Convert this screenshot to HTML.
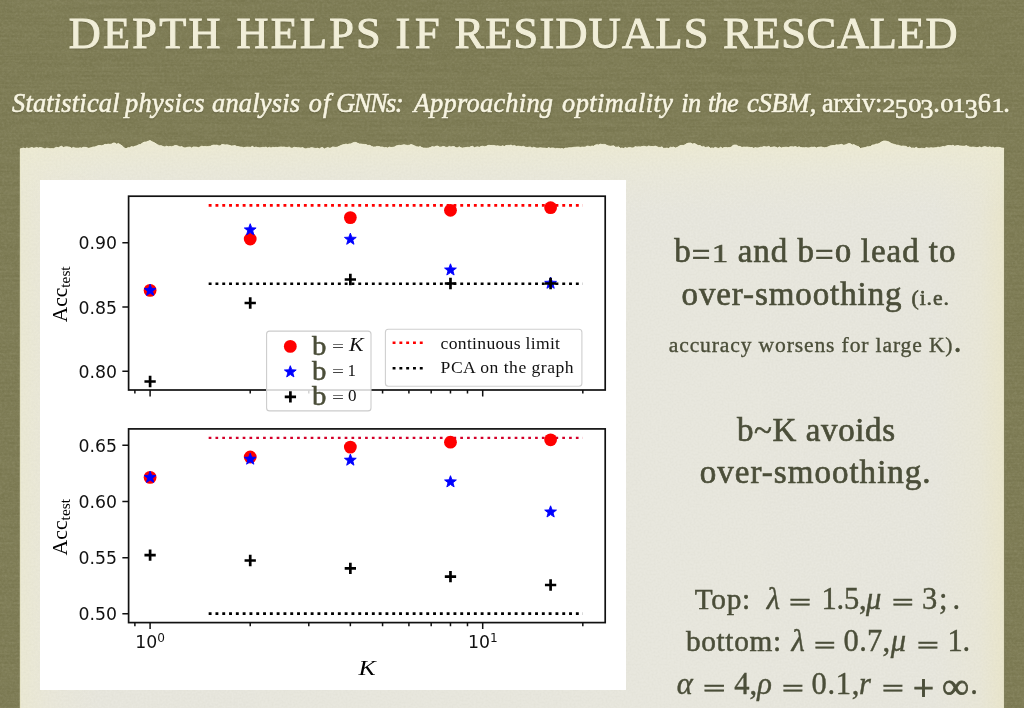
<!DOCTYPE html>
<html lang="en">
<head>
<meta charset="utf-8">
<title>Depth helps if residuals rescaled</title>
<style>
html,body{margin:0;padding:0}
body{width:1024px;height:708px;overflow:hidden;position:relative;background:#78764f;font-family:"Liberation Serif","DejaVu Serif",serif}
.bg,.paper{position:absolute;left:0;top:0}
.plot{position:absolute;left:40px;top:180px}
.t{position:absolute;white-space:pre;margin:0}
.w{position:absolute;top:0}
.s1{transform-origin:0 72%}
.title{color:#f1eed8;-webkit-text-stroke:1px #f1eed8;text-shadow:0 1px 1.5px rgba(50,48,25,.5)}
.sub{color:#f8f5e2;-webkit-text-stroke:0.6px #f8f5e2;text-shadow:0 1px 1.5px rgba(50,48,25,.5)}
.b1,.b2,.g,.mm{color:#4b4e39}
.b1{-webkit-text-stroke:0.65px #4b4e39}
.b2{-webkit-text-stroke:0.35px #4b4e39}
.g{-webkit-text-stroke:0.5px #4b4e39}
.mm{-webkit-text-stroke:0.4px #4b4e39}
.sm{font-size:21.6px}
.os{font-size:0.75em;display:inline-block;transform:scaleX(1.3);margin:0 0.03em 0 0.12em}
.eq{position:relative;top:0.12em}
.od{position:relative;top:0.24em}
.dot{font-size:33px}
</style>
</head>
<body>
<svg class="bg" width="1024" height="708">
<defs>
<filter id="lin" x="0" y="0" width="100%" height="100%"><feTurbulence type="fractalNoise" baseFrequency="0.006 0.45" numOctaves="2" seed="3"/><feColorMatrix type="matrix" values="0 0 0 0 0.30  0 0 0 0 0.29  0 0 0 0 0.15  0.5 0 0 0 -0.17"/></filter>
<filter id="blot" x="0" y="0" width="100%" height="100%"><feTurbulence type="fractalNoise" baseFrequency="0.45" numOctaves="2" seed="11"/><feColorMatrix type="matrix" values="0 0 0 0 0.28  0 0 0 0 0.27  0 0 0 0 0.14  0.45 0 0 0 -0.16"/></filter>
<filter id="blot2" x="0" y="0" width="100%" height="100%"><feTurbulence type="fractalNoise" baseFrequency="0.4" numOctaves="2" seed="23"/><feColorMatrix type="matrix" values="0 0 0 0 0.66  0 0 0 0 0.65  0 0 0 0 0.50  0 0.22 0 0 -0.09"/></filter>
<filter id="mot" x="0" y="0" width="100%" height="100%"><feTurbulence type="fractalNoise" baseFrequency="0.05 0.16" numOctaves="3" seed="41"/><feColorMatrix type="matrix" values="0 0 0 0 0.25  0 0 0 0 0.24  0 0 0 0 0.12  0.55 0 0 0 -0.2"/></filter>
<filter id="pgrain" x="0" y="0" width="100%" height="100%"><feTurbulence type="fractalNoise" baseFrequency="0.5" numOctaves="2" seed="5"/><feColorMatrix type="matrix" values="0 0 0 0 0.5  0 0 0 0 0.5  0 0 0 0 0.4  0.4 0 0 0 -0.14"/></filter>
<path id="pp" d="M20.3,720 L20.3,148.8 L21.9,148.4 L23.6,148.1 L25.2,148.8 L26.8,147.8 L28.5,148.4 L30.1,148.1 L31.7,147.5 L33.4,148.1 L35.0,148.0 L36.7,147.4 L38.3,148.1 L40.0,147.6 L41.7,147.7 L43.3,148.3 L45.0,149.0 L46.7,148.0 L48.3,148.3 L50.0,148.8 L51.7,148.6 L53.3,148.8 L55.0,147.9 L56.7,147.3 L58.3,147.8 L60.0,146.8 L61.7,146.2 L63.3,147.6 L65.0,146.9 L66.7,146.8 L68.3,146.9 L70.0,147.3 L71.7,148.2 L73.3,147.4 L75.0,148.0 L76.7,148.1 L78.3,148.2 L80.0,147.8 L81.7,148.1 L83.3,147.3 L85.0,147.3 L86.7,147.6 L88.3,148.3 L90.0,148.0 L91.7,147.5 L93.3,146.9 L95.0,146.9 L96.7,146.3 L98.3,145.6 L100.0,145.5 L101.7,145.7 L103.3,145.2 L105.0,144.3 L106.7,144.5 L108.3,144.1 L110.0,144.4 L111.7,143.9 L113.3,143.0 L115.0,143.0 L116.7,144.2 L118.3,143.4 L120.0,144.5 L122.0,145.8 L124.0,147.7 L126.0,148.8 L127.8,147.7 L129.6,147.7 L131.4,146.6 L133.2,147.0 L135.0,146.2 L136.9,145.8 L138.8,144.7 L140.6,144.4 L142.5,143.0 L144.4,142.1 L146.2,142.0 L148.1,141.3 L150.0,140.5 L152.0,141.7 L154.0,142.6 L156.0,143.8 L157.8,144.9 L159.6,145.7 L161.4,145.7 L163.2,146.6 L165.0,147.0 L166.7,146.1 L168.3,146.8 L170.0,146.5 L171.7,146.7 L173.3,146.2 L175.0,145.5 L176.7,145.6 L178.3,146.2 L180.0,147.0 L181.7,146.5 L183.3,147.5 L185.0,148.0 L186.7,147.4 L188.3,147.2 L190.0,147.0 L191.7,148.0 L193.3,146.9 L195.0,147.0 L196.7,147.1 L198.3,147.7 L200.0,147.0 L201.7,146.2 L203.4,146.5 L205.1,146.4 L206.9,146.7 L208.6,146.4 L210.3,146.3 L212.0,145.5 L213.6,145.1 L215.2,145.2 L216.9,145.1 L218.5,145.8 L220.1,145.9 L221.8,144.6 L223.4,144.6 L225.0,145.0 L226.7,144.8 L228.3,145.0 L230.0,145.6 L231.7,146.0 L233.3,145.8 L235.0,145.6 L236.7,146.4 L238.3,146.6 L240.0,147.0 L241.8,147.1 L243.6,147.7 L245.3,147.3 L247.1,147.0 L248.9,147.2 L250.7,147.3 L252.4,146.3 L254.2,147.6 L256.0,147.0 L257.7,147.5 L259.3,147.8 L261.0,147.8 L262.7,147.3 L264.3,147.4 L266.0,147.1 L267.7,148.0 L269.3,147.2 L271.0,148.0 L272.7,147.3 L274.3,147.5 L276.0,147.3 L277.7,147.5 L279.3,147.1 L281.0,146.9 L282.7,147.1 L284.3,147.0 L286.0,147.5 L287.7,147.4 L289.3,146.9 L291.0,148.2 L292.7,147.9 L294.3,147.3 L296.0,147.5 L297.7,147.7 L299.3,147.7 L301.0,148.0 L302.7,147.5 L304.3,148.6 L306.0,148.9 L307.7,148.2 L309.3,148.3 L311.0,147.7 L312.7,147.8 L314.3,148.2 L316.0,148.5 L317.7,148.1 L319.3,148.9 L321.0,147.8 L322.7,147.6 L324.3,148.9 L326.0,148.2 L327.7,147.6 L329.3,148.1 L331.0,148.0 L332.7,146.9 L334.3,147.2 L336.0,147.5 L337.7,146.9 L339.3,146.2 L341.0,145.5 L342.7,144.8 L344.3,144.6 L346.0,144.0 L347.7,144.6 L349.3,143.9 L351.0,143.9 L352.7,142.9 L354.3,142.4 L356.0,142.5 L357.7,143.3 L359.3,143.9 L361.0,144.0 L362.7,144.3 L364.3,144.6 L366.0,144.5 L367.9,145.5 L369.8,145.3 L371.6,146.4 L373.5,147.0 L375.3,146.9 L377.1,146.4 L378.9,146.5 L380.6,147.0 L382.4,147.0 L384.2,147.7 L386.0,147.5 L387.7,148.0 L389.3,147.0 L391.0,147.5 L392.7,147.3 L394.3,147.1 L396.0,146.0 L397.7,145.5 L399.3,145.3 L401.0,145.5 L402.7,144.9 L404.3,144.7 L406.0,145.2 L407.7,145.4 L409.3,145.2 L411.0,144.5 L412.9,145.1 L414.8,146.0 L416.6,146.8 L418.5,147.0 L420.2,146.5 L421.8,147.6 L423.5,148.1 L425.2,148.1 L426.8,148.2 L428.5,148.0 L430.4,147.5 L432.2,146.6 L434.1,147.1 L436.0,146.2 L437.7,146.1 L439.3,146.9 L441.0,147.2 L442.7,146.4 L444.3,146.5 L446.0,147.4 L447.7,147.2 L449.3,146.4 L451.0,147.0 L452.7,146.5 L454.3,146.6 L456.0,147.8 L457.7,147.7 L459.3,146.7 L461.0,147.8 L462.7,148.1 L464.3,147.7 L466.0,147.5 L467.7,147.2 L469.3,147.4 L471.0,146.6 L472.7,146.3 L474.3,147.7 L476.0,147.1 L477.7,146.8 L479.3,147.3 L481.0,146.5 L482.7,146.2 L484.3,146.7 L486.0,146.5 L487.7,145.4 L489.3,145.3 L491.0,145.5 L492.7,145.4 L494.3,145.4 L496.0,146.1 L497.7,145.8 L499.3,146.2 L501.0,146.5 L502.7,145.7 L504.3,146.6 L506.0,145.5 L507.7,145.4 L509.3,145.4 L511.0,145.0 L512.8,145.9 L514.6,145.4 L516.3,146.5 L518.1,146.1 L519.9,146.4 L521.7,146.7 L523.4,146.2 L525.2,147.1 L527.0,147.5 L528.7,147.1 L530.3,146.9 L532.0,148.1 L533.7,147.2 L535.3,147.7 L537.0,148.2 L538.7,148.0 L540.3,147.7 L542.0,148.0 L543.7,148.1 L545.3,148.2 L547.0,148.6 L548.7,147.6 L550.3,148.3 L552.0,147.9 L553.7,148.0 L555.3,148.7 L557.0,148.4 L558.7,148.5 L560.3,148.8 L562.0,148.5 L563.7,149.0 L565.3,148.1 L567.0,148.2 L568.7,147.8 L570.3,147.7 L572.0,147.8 L573.7,147.3 L575.3,147.2 L577.0,147.0 L578.7,146.9 L580.3,147.4 L582.0,147.0 L583.7,147.1 L585.3,147.1 L587.0,146.0 L588.7,146.3 L590.3,146.8 L592.0,146.0 L593.7,146.3 L595.3,145.0 L597.0,144.7 L598.7,144.9 L600.3,144.1 L602.0,144.5 L603.7,144.4 L605.3,144.4 L607.0,145.5 L608.7,145.9 L610.3,146.3 L612.0,146.0 L613.7,145.8 L615.3,147.0 L617.0,147.2 L618.7,146.8 L620.3,148.2 L622.0,148.0 L623.7,148.6 L625.3,147.4 L627.0,148.3 L628.7,147.4 L630.3,147.4 L632.0,148.1 L633.7,147.7 L635.3,146.6 L637.0,147.0 L638.7,146.8 L640.3,146.9 L642.0,146.6 L643.7,146.3 L645.3,146.5 L647.0,147.0 L648.7,145.9 L650.3,146.6 L652.0,146.5 L653.7,146.6 L655.3,146.1 L657.0,146.7 L658.7,147.4 L660.3,147.4 L662.0,146.8 L663.7,148.4 L665.3,148.3 L667.0,148.0 L668.7,148.6 L670.3,147.2 L672.0,147.4 L673.7,147.0 L675.3,148.0 L677.0,147.5 L678.7,146.5 L680.3,145.6 L682.0,145.4 L683.7,145.5 L685.3,144.6 L687.0,143.5 L688.9,143.1 L690.8,143.0 L692.6,144.1 L694.5,143.5 L696.4,144.5 L698.2,145.6 L700.1,145.5 L702.0,147.0 L703.7,146.4 L705.3,147.5 L707.0,147.2 L708.7,146.8 L710.3,148.2 L712.0,147.9 L713.7,148.2 L715.3,147.3 L717.0,148.0 L718.8,148.5 L720.6,147.2 L722.4,148.3 L724.1,147.6 L725.9,147.4 L727.7,147.7 L729.5,147.5 L731.2,147.3 L732.8,145.5 L734.5,145.0 L736.4,145.1 L738.2,146.3 L740.1,146.5 L742.0,147.5 L743.7,147.0 L745.3,147.1 L747.0,147.0 L748.7,147.3 L750.3,147.5 L752.0,147.5 L753.7,148.3 L755.3,147.6 L757.0,148.0 L758.7,147.8 L760.3,147.2 L762.0,147.3 L763.7,146.6 L765.3,146.8 L767.0,147.0 L768.8,146.3 L770.6,147.5 L772.3,147.2 L774.1,146.8 L775.9,147.2 L777.7,148.0 L779.4,146.8 L781.2,147.9 L783.0,147.5 L784.8,147.3 L786.6,147.2 L788.4,147.6 L790.1,146.8 L791.9,146.8 L793.7,146.9 L795.5,146.5 L797.3,147.4 L799.1,146.7 L800.9,147.6 L802.6,147.7 L804.4,147.8 L806.2,147.6 L808.0,148.0 L809.7,147.7 L811.3,147.2 L813.0,147.3 L814.7,147.1 L816.3,148.1 L818.0,147.3 L819.7,147.1 L821.3,146.9 L823.0,147.5 L824.7,147.7 L826.3,147.5 L828.0,146.9 L829.7,146.1 L831.3,145.7 L833.0,145.5 L834.7,145.5 L836.3,144.8 L838.0,145.0 L839.8,144.7 L841.6,144.3 L843.4,145.2 L845.1,145.0 L846.9,144.2 L848.7,143.5 L850.5,143.8 L852.2,145.0 L853.8,144.6 L855.5,145.5 L857.2,146.3 L858.8,146.8 L860.5,148.5 L862.2,148.0 L863.8,147.8 L865.5,147.5 L867.2,146.7 L868.8,146.8 L870.5,146.5 L872.4,145.1 L874.2,144.9 L876.1,144.0 L878.0,144.0 L879.9,143.1 L881.8,141.8 L883.6,141.0 L885.5,141.0 L887.4,141.5 L889.2,142.1 L891.1,143.4 L893.0,144.0 L894.7,144.4 L896.3,145.0 L898.0,145.2 L899.7,145.7 L901.3,146.2 L903.0,146.0 L904.7,146.2 L906.3,146.4 L908.0,147.7 L909.7,146.8 L911.3,148.0 L913.0,148.0 L914.7,148.2 L916.3,147.3 L918.0,148.5 L919.7,148.6 L921.3,148.2 L923.0,148.4 L924.7,148.5 L926.3,147.5 L928.0,148.0 L929.7,147.9 L931.3,147.7 L933.0,148.0 L934.7,147.8 L936.3,147.7 L938.0,147.1 L939.7,147.4 L941.3,146.9 L943.0,146.5 L944.7,146.7 L946.3,145.9 L948.0,145.5 L949.7,145.5 L951.3,145.7 L953.0,145.2 L954.7,146.2 L956.3,145.7 L958.0,145.5 L959.7,145.9 L961.3,146.0 L963.0,146.3 L964.7,146.2 L966.3,145.6 L968.0,146.5 L969.7,147.1 L971.3,147.2 L973.0,147.0 L974.7,147.2 L976.3,147.6 L978.0,147.5 L979.7,146.8 L981.3,147.7 L983.0,147.0 L984.7,146.6 L986.3,146.9 L988.0,147.5 L989.7,146.7 L991.3,147.4 L993.0,147.0 L994.8,147.9 L996.6,147.3 L998.4,147.3 L1000.1,147.6 L1001.9,148.1 L1003.7,148.0 L1003.7,720 Z"/>
<clipPath id="pc"><use href="#pp"/></clipPath>
<linearGradient id="pg" x1="0" x2="1" y1="0" y2="0"><stop offset="0" stop-color="#ebe9d4"/><stop offset="0.03" stop-color="#eae8da"/><stop offset="0.08" stop-color="#e8e7de"/><stop offset="0.93" stop-color="#e8e7de"/><stop offset="0.975" stop-color="#e9e7d8"/><stop offset="1" stop-color="#eae6cc"/></linearGradient>
<linearGradient id="pt" x1="0" x2="0" y1="0" y2="1"><stop offset="0" stop-color="#eeebd2" stop-opacity="1"/><stop offset="0.4" stop-color="#edebd6" stop-opacity="0.55"/><stop offset="1" stop-color="#ebe9da" stop-opacity="0"/></linearGradient>
</defs>
<rect width="1024" height="708" fill="#78764f"/>
<rect width="1024" height="708" filter="url(#lin)"/>
<rect width="1024" height="708" filter="url(#mot)"/>
<rect width="1024" height="708" filter="url(#blot)"/>
<rect width="1024" height="708" filter="url(#blot2)"/>
<use href="#pp" fill="#5f5d3a" opacity="0.55" transform="translate(1.2,0.8)"/>
<use href="#pp" fill="url(#pg)"/>
<g clip-path="url(#pc)"><rect x="19" y="138" width="986" height="75" fill="url(#pt)"/></g>
<use href="#pp" fill="none" stroke="#f4f1d6" stroke-width="1" opacity="0.8"/>
<g clip-path="url(#pc)"><rect x="19" y="138" width="986" height="570" filter="url(#pgrain)" opacity="0.5"/></g>
</svg>
<svg class="plot" width="586" height="510" viewBox="40 180 586 510">
<rect x="40" y="180" width="586" height="510" fill="#ffffff"/>
<line x1="208.67" y1="205.40" x2="582.82" y2="205.40" stroke="#ff0000" stroke-width="2.60" stroke-dasharray="2.90 3.90"/>
<line x1="208.67" y1="283.70" x2="582.82" y2="283.70" stroke="#000000" stroke-width="2.60" stroke-dasharray="2.90 3.90"/>
<line x1="208.67" y1="437.90" x2="582.82" y2="437.90" stroke="#d4002a" stroke-width="2.20" stroke-dasharray="2.70 4.10"/>
<line x1="208.67" y1="613.65" x2="582.82" y2="613.65" stroke="#000000" stroke-width="2.70" stroke-dasharray="2.90 3.90"/>
<circle cx="150.10" cy="290.40" r="6.4" fill="#ff0000"/>
<circle cx="250.22" cy="239.00" r="6.4" fill="#ff0000"/>
<circle cx="350.35" cy="217.60" r="6.4" fill="#ff0000"/>
<circle cx="450.47" cy="210.30" r="6.4" fill="#ff0000"/>
<circle cx="550.59" cy="207.70" r="6.4" fill="#ff0000"/>
<polygon points="150.10,284.20 151.63,288.30 156.00,288.48 152.57,291.20 153.74,295.42 150.10,293.00 146.46,295.42 147.63,291.20 144.20,288.48 148.57,288.30" fill="#0000ff" stroke="#0000ff" stroke-width="0.9" stroke-linejoin="round"/>
<polygon points="250.22,223.70 251.75,227.80 256.12,227.98 252.70,230.70 253.87,234.92 250.22,232.50 246.58,234.92 247.75,230.70 244.33,227.98 248.69,227.80" fill="#0000ff" stroke="#0000ff" stroke-width="0.9" stroke-linejoin="round"/>
<polygon points="350.35,233.10 351.87,237.20 356.24,237.38 352.82,240.10 353.99,244.32 350.35,241.90 346.70,244.32 347.87,240.10 344.45,237.38 348.82,237.20" fill="#0000ff" stroke="#0000ff" stroke-width="0.9" stroke-linejoin="round"/>
<polygon points="450.47,263.80 452.00,267.90 456.36,268.08 452.94,270.80 454.11,275.02 450.47,272.60 446.82,275.02 447.99,270.80 444.57,268.08 448.94,267.90" fill="#0000ff" stroke="#0000ff" stroke-width="0.9" stroke-linejoin="round"/>
<polygon points="550.59,277.10 552.12,281.20 556.49,281.38 553.06,284.10 554.23,288.32 550.59,285.90 546.95,288.32 548.12,284.10 544.69,281.38 549.06,281.20" fill="#0000ff" stroke="#0000ff" stroke-width="0.9" stroke-linejoin="round"/>
<path d="M144.45,381.50H155.75M150.10,375.85V387.15" stroke="#000" stroke-width="2.7" fill="none"/>
<path d="M244.57,303.00H255.87M250.22,297.35V308.65" stroke="#000" stroke-width="2.7" fill="none"/>
<path d="M344.70,279.50H356.00M350.35,273.85V285.15" stroke="#000" stroke-width="2.7" fill="none"/>
<path d="M444.82,283.50H456.12M450.47,277.85V289.15" stroke="#000" stroke-width="2.7" fill="none"/>
<path d="M544.94,283.50H556.24M550.59,277.85V289.15" stroke="#000" stroke-width="2.7" fill="none"/>
<circle cx="150.10" cy="477.40" r="6.4" fill="#ff0000"/>
<circle cx="250.22" cy="457.00" r="6.4" fill="#ff0000"/>
<circle cx="350.35" cy="447.10" r="6.4" fill="#ff0000"/>
<circle cx="450.47" cy="442.20" r="6.4" fill="#ff0000"/>
<circle cx="550.59" cy="439.80" r="6.4" fill="#ff0000"/>
<polygon points="150.10,471.20 151.63,475.30 156.00,475.48 152.57,478.20 153.74,482.42 150.10,480.00 146.46,482.42 147.63,478.20 144.20,475.48 148.57,475.30" fill="#0000ff" stroke="#0000ff" stroke-width="0.9" stroke-linejoin="round"/>
<polygon points="250.22,453.00 251.75,457.10 256.12,457.28 252.70,460.00 253.87,464.22 250.22,461.80 246.58,464.22 247.75,460.00 244.33,457.28 248.69,457.10" fill="#0000ff" stroke="#0000ff" stroke-width="0.9" stroke-linejoin="round"/>
<polygon points="350.35,454.00 351.87,458.10 356.24,458.28 352.82,461.00 353.99,465.22 350.35,462.80 346.70,465.22 347.87,461.00 344.45,458.28 348.82,458.10" fill="#0000ff" stroke="#0000ff" stroke-width="0.9" stroke-linejoin="round"/>
<polygon points="450.47,475.70 452.00,479.80 456.36,479.98 452.94,482.70 454.11,486.92 450.47,484.50 446.82,486.92 447.99,482.70 444.57,479.98 448.94,479.80" fill="#0000ff" stroke="#0000ff" stroke-width="0.9" stroke-linejoin="round"/>
<polygon points="550.59,505.80 552.12,509.90 556.49,510.08 553.06,512.80 554.23,517.02 550.59,514.60 546.95,517.02 548.12,512.80 544.69,510.08 549.06,509.90" fill="#0000ff" stroke="#0000ff" stroke-width="0.9" stroke-linejoin="round"/>
<path d="M144.45,555.20H155.75M150.10,549.55V560.85" stroke="#000" stroke-width="2.7" fill="none"/>
<path d="M244.57,560.50H255.87M250.22,554.85V566.15" stroke="#000" stroke-width="2.7" fill="none"/>
<path d="M344.70,568.30H356.00M350.35,562.65V573.95" stroke="#000" stroke-width="2.7" fill="none"/>
<path d="M444.82,576.60H456.12M450.47,570.95V582.25" stroke="#000" stroke-width="2.7" fill="none"/>
<path d="M544.94,585.00H556.24M550.59,579.35V590.65" stroke="#000" stroke-width="2.7" fill="none"/>
<rect x="128.6" y="196.2" width="476.6" height="193.8" fill="none" stroke="#111" stroke-width="1.7"/>
<rect x="128.6" y="428.9" width="476.6" height="193.7" fill="none" stroke="#111" stroke-width="1.7"/>
<path d="M134.88,390.00v3.6M250.22,390.00v3.6M308.79,390.00v3.6M350.35,390.00v3.6M382.58,390.00v3.6M408.91,390.00v3.6M431.18,390.00v3.6M450.47,390.00v3.6M467.48,390.00v3.6M582.82,390.00v3.6M150.10,390.00v6.4M482.70,390.00v6.4M134.88,622.60v3.6M250.22,622.60v3.6M308.79,622.60v3.6M350.35,622.60v3.6M382.58,622.60v3.6M408.91,622.60v3.6M431.18,622.60v3.6M450.47,622.60v3.6M467.48,622.60v3.6M582.82,622.60v3.6M150.10,622.60v6.4M482.70,622.60v6.4M128.55,371.30h-6.2M128.55,307.05h-6.2M128.55,242.80h-6.2M128.55,613.84h-6.2M128.55,557.66h-6.2M128.55,501.48h-6.2M128.55,445.30h-6.2" stroke="#111" stroke-width="1.5" fill="none"/>
<g font-family="'DejaVu Sans', 'Liberation Sans', sans-serif" font-size="17.3" fill="#111">
<text x="116.9" y="377.75" text-anchor="end">0.80</text>
<text x="116.9" y="313.50" text-anchor="end">0.85</text>
<text x="116.9" y="249.25" text-anchor="end">0.90</text>
<text x="116.9" y="620.29" text-anchor="end">0.50</text>
<text x="116.9" y="564.11" text-anchor="end">0.55</text>
<text x="116.9" y="507.93" text-anchor="end">0.60</text>
<text x="116.9" y="451.75" text-anchor="end">0.65</text>
<text x="135.3" y="648.4">10<tspan font-size="12.1" dy="-6.2">0</tspan></text>
<text x="468.0" y="648.4">10<tspan font-size="12.1" dy="-6.2">1</tspan></text>
</g>
<g font-family="'Liberation Serif', serif" fill="#000">
<text transform="translate(66.5,322.2) rotate(-90)" font-size="20.8" textLength="55.8" lengthAdjust="spacingAndGlyphs">Acc<tspan font-size="14.8" dy="3.8">test</tspan></text>
<text transform="translate(66.5,555.4) rotate(-90)" font-size="20.8" textLength="56.5" lengthAdjust="spacingAndGlyphs">Acc<tspan font-size="14.8" dy="3.8">test</tspan></text>
<text x="358.6" y="674.8" font-size="22" font-style="italic" textLength="17.2" lengthAdjust="spacingAndGlyphs">K</text>
</g>
<rect x="266.6" y="331.1" width="104.4" height="79.8" rx="3" fill="#ffffff" fill-opacity="0.82" stroke="#cccccc" stroke-width="1.1"/>
<circle cx="290.30" cy="346.40" r="6.4" fill="#ff0000"/>
<polygon points="290.30,365.70 291.83,369.80 296.20,369.98 292.77,372.70 293.94,376.92 290.30,374.50 286.66,376.92 287.83,372.70 284.40,369.98 288.77,369.80" fill="#0000ff" stroke="#0000ff" stroke-width="0.9" stroke-linejoin="round"/>
<path d="M284.75,396.80H296.05M290.40,391.15V402.45" stroke="#000" stroke-width="2.7" fill="none"/>
<g font-family="'Liberation Serif', serif" fill="#111" font-size="17">
<text x="332.0" y="352.3" fill="#444" textLength="12" lengthAdjust="spacingAndGlyphs">=</text>
<text x="332.0" y="377.1" fill="#444" textLength="12" lengthAdjust="spacingAndGlyphs">=</text>
<text x="332.0" y="402.5" fill="#444" textLength="12" lengthAdjust="spacingAndGlyphs">=</text>
<text x="349.0" y="350.8" font-style="italic" font-size="18.8" textLength="14.6" lengthAdjust="spacingAndGlyphs">K</text>
<text x="347.6" y="375.6">1</text>
<text x="347.9" y="401.0">0</text>
</g>
<g font-family="'Liberation Serif', serif" fill="#4b4e39" stroke="#4b4e39" stroke-width="0.5" font-size="27.5">
<text x="312.0" y="354.5" textLength="14.4" lengthAdjust="spacingAndGlyphs">b</text>
<text x="312.0" y="379.9" textLength="14.4" lengthAdjust="spacingAndGlyphs">b</text>
<text x="312.0" y="405.1" textLength="14.4" lengthAdjust="spacingAndGlyphs">b</text>
</g>
<rect x="385.4" y="329.2" width="196.5" height="57" rx="3" fill="#ffffff" fill-opacity="0.82" stroke="#cfcfcf" stroke-width="1.1"/>
<line x1="392.60" y1="342.80" x2="423.20" y2="342.80" stroke="#ff0000" stroke-width="2.60" stroke-dasharray="2.90 3.90"/>
<line x1="392.60" y1="368.20" x2="423.20" y2="368.20" stroke="#000000" stroke-width="2.60" stroke-dasharray="2.90 3.90"/>
<g font-family="'Liberation Serif', serif" fill="#111" font-size="17.6">
<text x="440.6" y="348.7" textLength="119.4" lengthAdjust="spacing">continuous limit</text>
<text x="440.6" y="373.4" textLength="133" lengthAdjust="spacing">PCA on the graph</text>
</g>
</svg>
<div class="t title" style="left:0;top:11.90px;font-size:44.30px;line-height:44.30px;width:1024px;height:44.30px"><span class="w" style="left:68.80px;letter-spacing:2.216px">DEPTH</span> <span class="w" style="left:236.60px;letter-spacing:2.152px">HELPS</span> <span class="w" style="left:395.60px;letter-spacing:4.609px">IF</span> <span class="w" style="left:454.40px;letter-spacing:1.293px">RESIDUALS</span> <span class="w" style="left:723.00px;letter-spacing:0.787px">RESCALED</span> </div>
<div class="t sub" style="left:0;top:90.57px;font-size:26.30px;line-height:26.30px;width:1024px;height:26.30px"><i class="w" style="left:12.00px;letter-spacing:0.230px">Statistical</i> <i class="w" style="left:125.00px;letter-spacing:0.346px">physics</i> <i class="w" style="left:212.00px;letter-spacing:0.257px">analysis</i> <i class="w" style="left:308.87px;letter-spacing:1.000px">of</i> <i class="w" style="left:336.20px;letter-spacing:-1.378px">GNNs:</i> <i class="w" style="left:413.75px;letter-spacing:0.291px">Approaching</i> <i class="w" style="left:562.00px;letter-spacing:0.484px">optimality</i> <i class="w" style="left:681.25px;letter-spacing:-0.469px">in</i> <i class="w" style="left:708.00px;letter-spacing:-0.695px">the</i> <i class="w" style="left:747.00px;letter-spacing:-0.099px">cSBM</i> <span class="w" style="left:809.80px;letter-spacing:0.000px">,</span> <span class="w" style="left:822.00px;letter-spacing:-0.213px">arxiv:<span class="os">2</span><span class="od">5</span><span class="os">0</span><span class="od">3</span>.<span class="os">0</span><span class="os">1</span><span class="od">3</span>6<span class="os">1</span>.</span> </div>
<div class="t b1" style="left:674.3px;top:234.86px;font-size:33.00px;line-height:33.00px;letter-spacing:0.972px">b<span class="eq">=</span><span class="os">1</span> and b<span class="eq">=</span><span class="os">0</span> lead to</div>
<div class="t b1" style="left:681.5px;top:278.06px;font-size:33.00px;line-height:33.00px;letter-spacing:0.903px">over-smoothing <span class="sm">(i.e.</span></div>
<div class="t b2" style="left:668.8px;top:330.81px;font-size:21.60px;line-height:21.60px;letter-spacing:0.855px">accuracy worsens for large K)<span class="dot">.</span></div>
<div class="t b1" style="left:737.0px;top:414.06px;font-size:33.00px;line-height:33.00px;letter-spacing:0.601px">b~K avoids</div>
<div class="t b1" style="left:699.8px;top:455.56px;font-size:33.00px;line-height:33.00px;letter-spacing:1.017px">over-smoothing.</div>
<div class="t g" style="left:694.8px;top:584.76px;font-size:29.30px;line-height:29.30px;letter-spacing:0.701px">Top:</div>
<div class="t g" style="left:685.9px;top:627.06px;font-size:29.30px;line-height:29.30px;letter-spacing:0.674px">bottom:</div>
<div class="t mm" style="left:0;top:583.76px;font-size:30.50px;line-height:30.50px;width:1024px;height:30.50px"><i class="w s1" style="left:766.75px;transform:scaleX(1.000);">λ</i> <span class="w s1" style="left:788.52px;top:2.5px;-webkit-text-stroke-width:0.85px;transform:scale(1.280,0.86);">=</span> <span class="w" style="left:821.40px;letter-spacing:-0.142px">1.5,</span> <i class="w s1" style="left:866.00px;transform:scaleX(1.000);">μ</i> <span class="w s1" style="left:891.85px;top:2.5px;-webkit-text-stroke-width:0.85px;transform:scale(1.253,0.86);">=</span> <span class="w s1" style="left:922.05px;transform:scaleX(1.000);">3</span> <span class="w s1" style="left:939.05px;transform:scaleX(1.000);">;</span> <span class="w s1" style="left:952.40px;transform:scaleX(1.000);">.</span> </div>
<div class="t mm" style="left:0;top:626.06px;font-size:30.50px;line-height:30.50px;width:1024px;height:30.50px"><i class="w s1" style="left:791.55px;transform:scaleX(1.000);">λ</i> <span class="w s1" style="left:813.55px;top:2.5px;-webkit-text-stroke-width:0.85px;transform:scale(1.253,0.86);">=</span> <span class="w" style="left:843.60px;letter-spacing:0.292px">0.7,</span> <i class="w s1" style="left:890.75px;transform:scaleX(1.000);">μ</i> <span class="w s1" style="left:916.63px;top:2.5px;-webkit-text-stroke-width:0.85px;transform:scale(1.267,0.86);">=</span> <span class="w s1" style="left:947.60px;transform:scaleX(1.000);">1</span> <span class="w s1" style="left:962.60px;transform:scaleX(1.000);">.</span> </div>
<div class="t mm" style="left:0;top:669.06px;font-size:30.50px;line-height:30.50px;width:1024px;height:30.50px"><i class="w s1" style="left:676.75px;transform:scaleX(1.000);">α</i> <span class="w s1" style="left:703.00px;top:2.5px;-webkit-text-stroke-width:0.85px;transform:scale(1.300,0.86);">=</span> <span class="w" style="left:734.20px;letter-spacing:-0.050px">4,</span> <i class="w s1" style="left:757.35px;transform:scaleX(1.000);">ρ</i> <span class="w s1" style="left:782.03px;top:2.5px;-webkit-text-stroke-width:0.85px;transform:scale(1.267,0.86);">=</span> <span class="w" style="left:811.60px;letter-spacing:0.692px">0.1,</span> <i class="w s1" style="left:859.05px;transform:scaleX(1.000);">r</i> <span class="w s1" style="left:882.23px;top:2.5px;-webkit-text-stroke-width:0.85px;transform:scale(1.267,0.86);">=</span> <span class="w s1" style="left:912.98px;top:5.8px;-webkit-text-stroke-width:0.8px;transform:scale(1.220,1.15);">+</span> <span class="w s1" style="left:941.55px;top:2.6px;-webkit-text-stroke-width:0.6px;transform:scale(1.245,1.18);">∞</span> <span class="w s1" style="left:970.30px;transform:scaleX(1.000);">.</span> </div>
</body>
</html>
